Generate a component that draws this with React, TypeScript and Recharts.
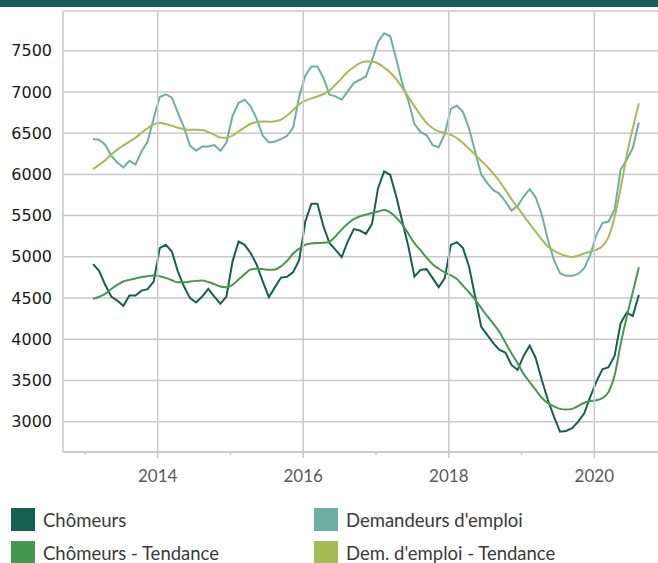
import React from 'react';
import { LineChart, Line, XAxis, YAxis, CartesianGrid } from 'recharts';

// monthly series, Feb 2013 -> Aug 2020
const startYear = 2013;
const startMonth = 2;

const chomeurs = [
  4911, 4829, 4660, 4518, 4469, 4405, 4530, 4530, 4590, 4607, 4700,
  5105, 5145, 5064, 4821, 4639, 4498, 4445, 4518, 4611, 4518, 4432, 4518,
  4942, 5185, 5145, 5044, 4902, 4700, 4510, 4632, 4748, 4757, 4814, 4963,
  5428, 5643, 5643, 5367, 5166, 5084, 4996, 5185, 5336, 5319, 5279, 5400,
  5833, 6035, 5995, 5731, 5428, 5125, 4760, 4842, 4850, 4741, 4632, 4741,
  5145, 5178, 5105, 4882, 4518, 4153, 4053, 3952, 3870, 3838, 3688, 3628,
  3798, 3923, 3770, 3506, 3263, 3061, 2879, 2887, 2920, 3000, 3102, 3303,
  3486, 3636, 3660, 3798, 4195, 4323, 4283, 4538,
];

const chomeursTendance = [
  4490, 4515, 4550, 4610, 4660, 4700, 4720, 4738, 4755, 4765, 4772,
  4765, 4745, 4715, 4690, 4690, 4700, 4708, 4712, 4695, 4668, 4640, 4630,
  4660, 4725, 4790, 4845, 4855, 4852, 4842, 4845, 4885, 4950, 5040, 5100,
  5145, 5162, 5168, 5170, 5185, 5250, 5330, 5400, 5457, 5490, 5512, 5532,
  5550, 5568, 5540, 5475, 5390, 5280, 5165, 5080, 4990, 4910, 4855, 4812,
  4775, 4730, 4650, 4570, 4480, 4380, 4280, 4190, 4090, 3960, 3830, 3710,
  3580, 3480, 3385, 3290, 3225, 3185, 3155, 3148, 3155, 3190, 3230, 3251,
  3260, 3285, 3360, 3560, 3940, 4270, 4570, 4874,
];

const demandeurs = [
  6428, 6420, 6360, 6226, 6144, 6084, 6165, 6120, 6278, 6399, 6680,
  6938, 6972, 6930, 6745, 6570, 6347, 6288, 6339, 6339, 6356, 6286, 6387,
  6711, 6866, 6906, 6824, 6671, 6468, 6387, 6399, 6428, 6468, 6569, 6946,
  7197, 7310, 7310, 7169, 6966, 6946, 6906, 7006, 7108, 7148, 7188, 7383,
  7610, 7712, 7675, 7400, 7100, 6890, 6610, 6515, 6474, 6355, 6330, 6490,
  6795, 6835, 6755, 6558, 6278, 6000, 5894, 5808, 5767, 5671, 5560, 5615,
  5731, 5821, 5720, 5510, 5206, 4963, 4802, 4769, 4769, 4793, 4862, 5024,
  5267, 5409, 5428, 5570, 6056, 6177, 6319, 6630,
];

const demTendance = [
  6064, 6115, 6170, 6240, 6300, 6351, 6398, 6445, 6505, 6560, 6605,
  6623, 6612, 6590, 6565, 6548, 6541, 6541, 6538, 6515, 6480, 6448, 6445,
  6470, 6520, 6570, 6614, 6635, 6642, 6638, 6645, 6665, 6715, 6780, 6850,
  6895, 6922, 6945, 6975, 7018, 7090, 7165, 7245, 7300, 7350, 7368, 7368,
  7345, 7295, 7235, 7155, 7050, 6940, 6825, 6720, 6625, 6560, 6522, 6505,
  6480, 6440, 6380, 6310, 6240, 6165, 6092, 6010, 5920, 5810, 5700, 5600,
  5500, 5400, 5305, 5210, 5125, 5075, 5036, 5010, 4998, 5015, 5040, 5064,
  5085, 5130, 5240, 5480, 5830, 6230, 6560, 6860,
];

const yTicks = [3000, 3500, 4000, 4500, 5000, 5500, 6000, 6500, 7000, 7500];
const yearTicks = [2013, 2014, 2015, 2016, 2017, 2018, 2019, 2020];

const series = [
  { key: 'chomeurs', name: 'Chômeurs', color: '#16604f', smooth: false },
  { key: 'demandeurs', name: "Demandeurs d'emploi", color: '#6dafa5', smooth: false },
  { key: 'chomeursTendance', name: 'Chômeurs - Tendance', color: '#48974f', smooth: true },
  { key: 'demTendance', name: "Dem. d'emploi - Tendance", color: '#a3bc55', smooth: true },
];

const legendOrder = ['chomeurs', 'demandeurs', 'chomeursTendance', 'demTendance'];

const data = chomeurs.map((v, i) => {
  const m = startMonth - 1 + i;
  return {
    t: startYear + (m + 0.34) / 12,
    chomeurs: v,
    chomeursTendance: chomeursTendance[i],
    demandeurs: demandeurs[i],
    demTendance: demTendance[i],
  };
});

const GRID = '#c9c9c9';
const PLOT_H = 441;

// even years: full-height grid line + label, odd years: short tick only
const YearTick = (props: any) => {
  const { x, y, payload } = props;
  const major = payload.value % 2 === 0;
  return (
    <g>
      <line
        x1={x}
        x2={x}
        y1={major ? y - PLOT_H : y}
        y2={y + (major ? 6 : 3)}
        stroke={GRID}
        strokeWidth={1.5}
      />
      {major && (
        <text x={x} y={y + 30} textAnchor="middle" fill="#595959" fontSize={17} fontFamily="Lato">
          {payload.value}
        </text>
      )}
    </g>
  );
};

export default function App() {
  return (
    <div style={{ position: 'relative', width: 658, height: 563, background: '#fff', fontFamily: 'Lato' }}>
      <style>{'body{margin:0}'}</style>
      <div style={{ position: 'absolute', left: 0, top: 0, width: 658, height: 7, background: '#175f55' }} />
      <div style={{ position: 'absolute', left: 0, top: 0 }}>
        <LineChart
          width={658}
          height={490}
          data={data}
          margin={{ top: 11, right: 0, left: 0, bottom: 0 }}
          accessibilityLayer={false}
        >
          <CartesianGrid vertical={false} stroke={GRID} strokeWidth={1.5} />
          <XAxis
            dataKey="t"
            type="number"
            domain={[2012.699, 2020.875]}
            ticks={yearTicks}
            interval={0}
            height={38}
            tickSize={0}
            tickMargin={0}
            tickLine={false}
            axisLine={{ stroke: GRID, strokeWidth: 1.5 }}
            tick={<YearTick />}
          />
          <YAxis
            type="number"
            domain={[2632, 7982]}
            ticks={yTicks}
            interval={0}
            width={63}
            tickSize={0}
            tickMargin={11}
            tickLine={false}
            axisLine={{ stroke: GRID, strokeWidth: 1.5 }}
            tick={{ fill: '#1a1a1a', fontSize: 16, fontFamily: 'DejaVu Sans' }}
          />
          {series.map((s) => (
            <Line
              key={s.key}
              dataKey={s.key}
              name={s.name}
              type={s.smooth ? 'monotone' : 'linear'}
              stroke={s.color}
              strokeWidth={2}
              dot={false}
              activeDot={false}
              isAnimationActive={false}
            />
          ))}
        </LineChart>
      </div>
      {legendOrder.map((k, i) => {
        const s = series.find((d) => d.key === k)!;
        const col = i % 2;
        const row = Math.floor(i / 2);
        return (
          <div
            key={k}
            style={{
              position: 'absolute',
              left: col === 0 ? 11 : 314,
              top: 508 + row * 33,
              display: 'flex',
              alignItems: 'center',
              height: 23,
            }}
          >
            <div style={{ width: 24, height: 23, background: s.color }} />
            <span style={{ marginLeft: 8, fontSize: 18.5, color: '#3a3a3a', whiteSpace: 'nowrap' }}>{s.name}</span>
          </div>
        );
      })}
    </div>
  );
}
